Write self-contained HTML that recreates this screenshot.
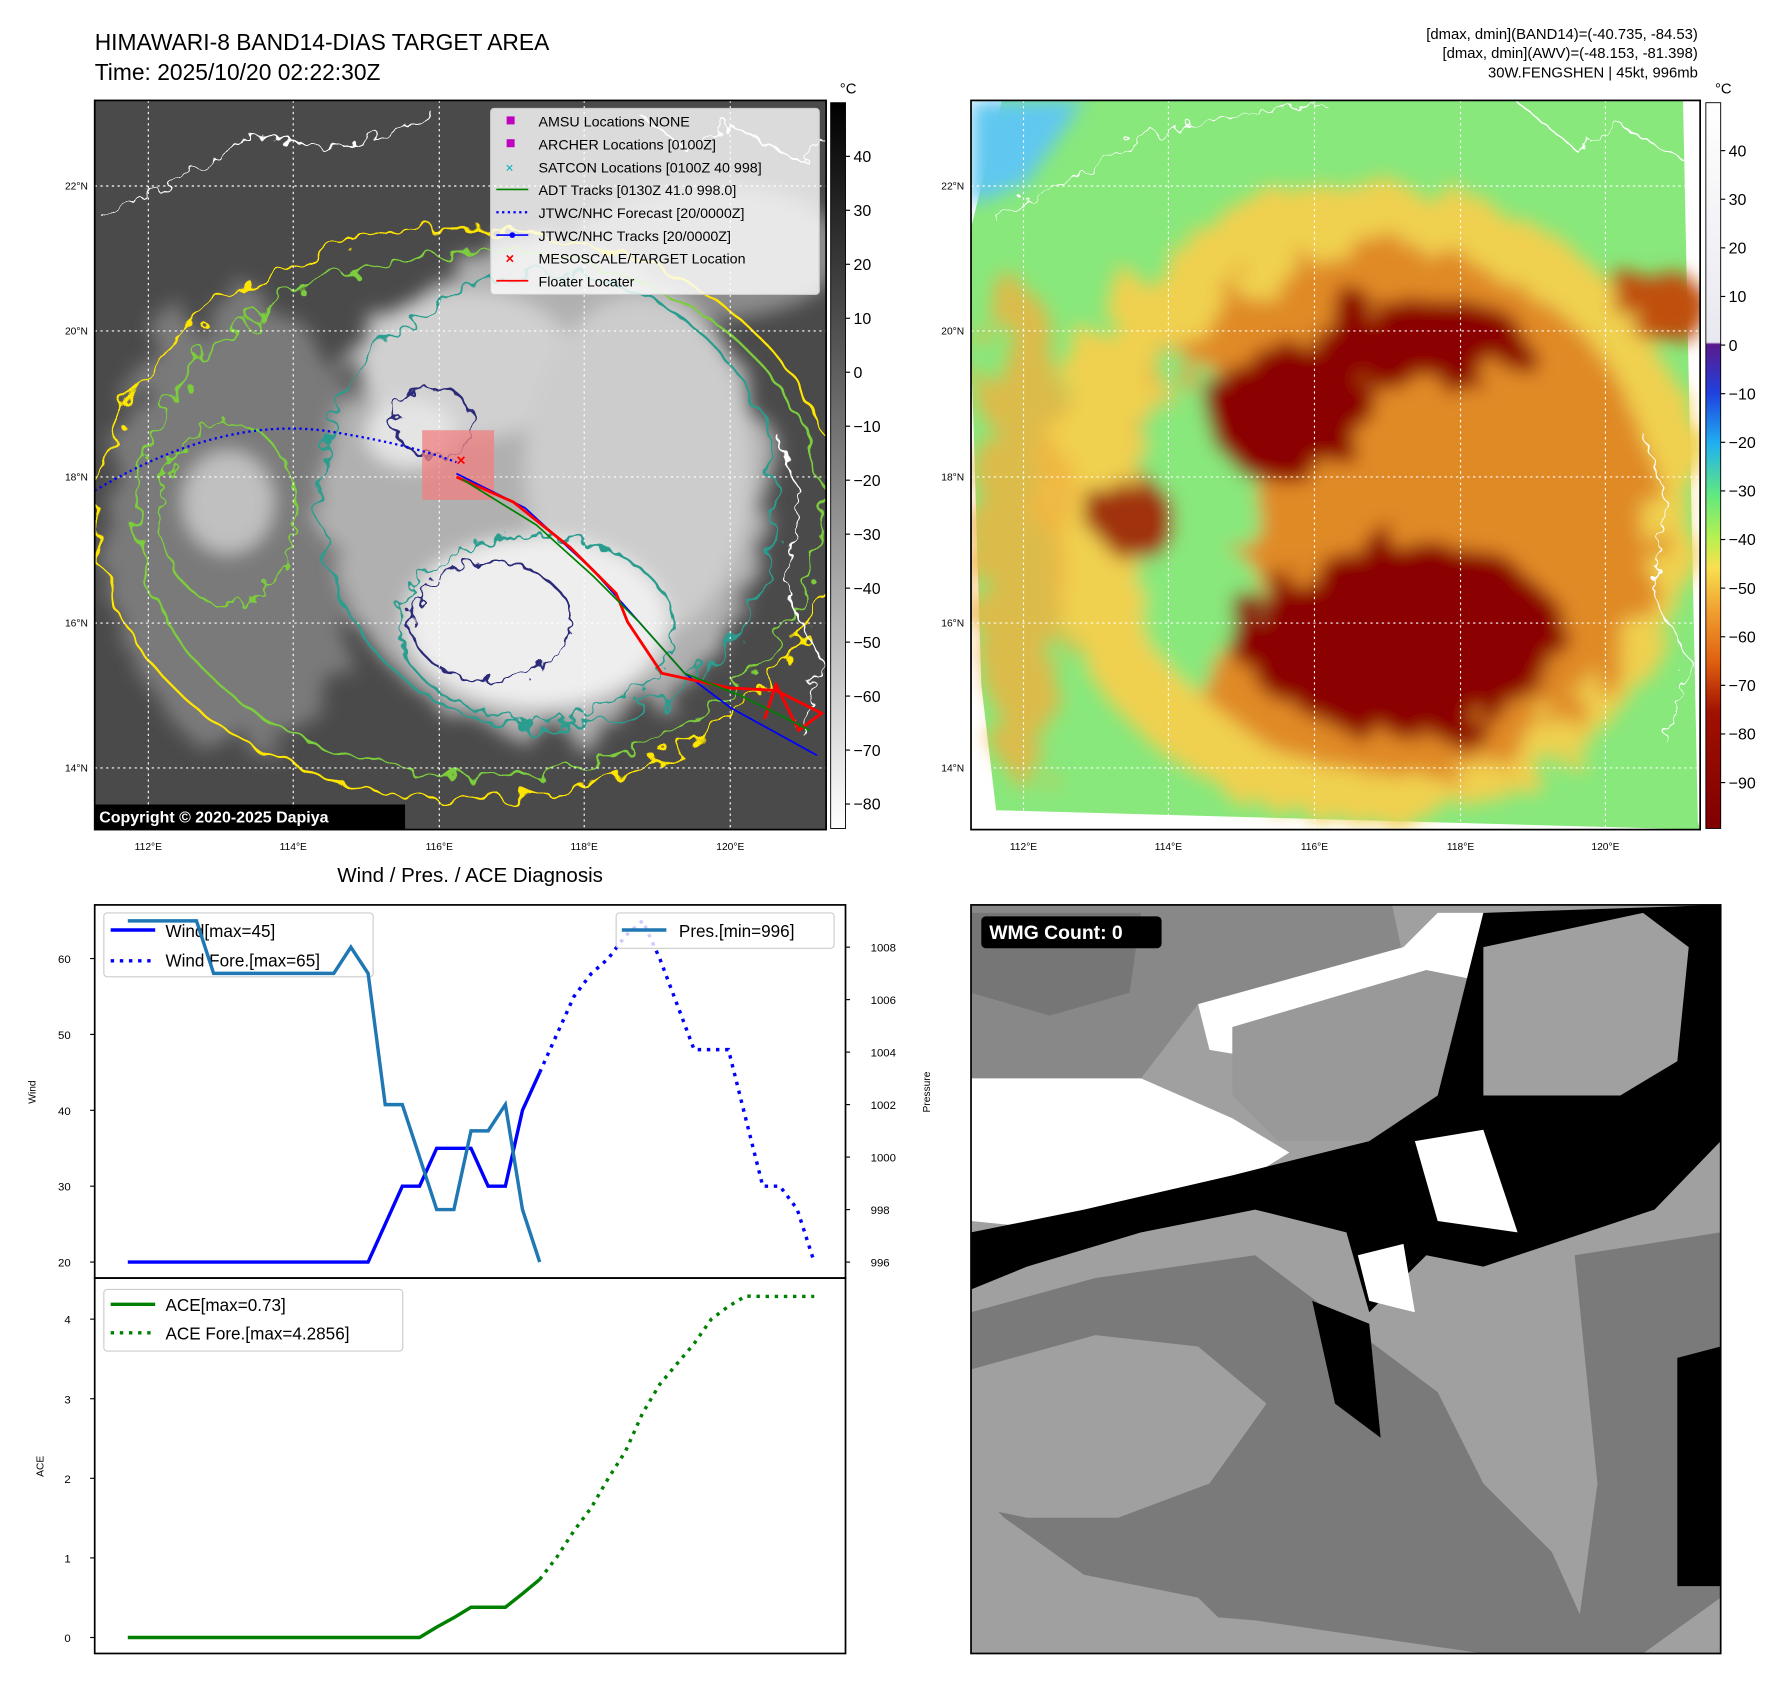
<!DOCTYPE html>
<html><head><meta charset="utf-8"><style>
html,body{margin:0;padding:0;background:#fff;}
svg{display:block;font-family:"Liberation Sans","DejaVu Sans",sans-serif;}
</style></head><body>
<svg id="root" width="1788" height="1690" viewBox="0 0 1567 1481" preserveAspectRatio="none" xmlns="http://www.w3.org/2000/svg">
<defs>
<filter id="blur8"><feGaussianBlur stdDeviation="8"/></filter>
<filter id="blur4"><feGaussianBlur stdDeviation="4"/></filter>
<filter id="wig"><feTurbulence type="fractalNoise" baseFrequency="0.05" numOctaves="2" seed="3"/><feDisplacementMap in="SourceGraphic" scale="28"/></filter>
<filter id="wig2"><feTurbulence type="fractalNoise" baseFrequency="0.08" numOctaves="2" seed="7"/><feDisplacementMap in="SourceGraphic" scale="20"/></filter>
<filter id="wig3"><feTurbulence type="fractalNoise" baseFrequency="0.03" numOctaves="3" seed="11"/><feDisplacementMap in="SourceGraphic" scale="60"/></filter>
<linearGradient id="cb1" x1="0" y1="0" x2="0" y2="1"><stop offset="0" stop-color="#000"/><stop offset="1" stop-color="#fff"/></linearGradient>
<linearGradient id="cb2" x1="0" y1="0" x2="0" y2="1">
<stop offset="0" stop-color="#ffffff"/><stop offset="0.33" stop-color="#e8e8f0"/><stop offset="0.333" stop-color="#5a1a8c"/>
<stop offset="0.40" stop-color="#2040e0"/><stop offset="0.47" stop-color="#20b0f0"/><stop offset="0.54" stop-color="#60e880"/>
<stop offset="0.60" stop-color="#b8f050"/><stop offset="0.64" stop-color="#f8e050"/><stop offset="0.70" stop-color="#f0a030"/>
<stop offset="0.77" stop-color="#e06010"/><stop offset="0.84" stop-color="#a01000"/><stop offset="1" stop-color="#800000"/></linearGradient>
<clipPath id="m1"><rect x="83" y="88" width="641" height="639"/></clipPath>
<clipPath id="m2"><rect x="851" y="88" width="639" height="639"/></clipPath>
<clipPath id="wm"><rect x="851" y="793" width="657" height="656"/></clipPath>
</defs>

<text x="83" y="44" font-size="20">HIMAWARI-8 BAND14-DIAS TARGET AREA</text>
<text x="83" y="70" font-size="20">Time: 2025/10/20 02:22:30Z</text>
<g font-size="13" text-anchor="end">
<text x="1488" y="34">[dmax, dmin](BAND14)=(-40.735, -84.53)</text>
<text x="1488" y="51">[dmax, dmin](AWV)=(-48.153, -81.398)</text>
<text x="1488" y="68">30W.FENGSHEN | 45kt, 996mb</text>
</g>

<!-- MAP 1 -->
<g clip-path="url(#m1)">
<rect x="83" y="88" width="641" height="639" fill="#4a4a4a"/>
<g filter="url(#blur8)">
<ellipse cx="210" cy="460" rx="115" ry="200" fill="#7a7a7a" filter="url(#wig3)"/>
<ellipse cx="200" cy="440" rx="40" ry="45" fill="#c0c0c0"/>
<ellipse cx="620" cy="220" rx="120" ry="60" fill="#8c8c8c"/>
<ellipse cx="480" cy="430" rx="195" ry="215" fill="#b0b0b0" filter="url(#wig3)"/>
<ellipse cx="410" cy="320" rx="95" ry="65" fill="#d0d0d0"/>
<ellipse cx="560" cy="410" rx="100" ry="150" fill="#cccccc"/>
<ellipse cx="470" cy="545" rx="115" ry="75" fill="#eeeeee"/>
<ellipse cx="360" cy="380" rx="40" ry="30" fill="#e4e4e4"/>
</g>
<g fill="none" stroke-width="2">
<ellipse cx="410" cy="450" rx="325" ry="250" stroke="#ffe600" filter="url(#wig)"/>
<ellipse cx="420" cy="450" rx="300" ry="230" stroke="#7ccd3c" filter="url(#wig)"/>
<ellipse cx="200" cy="450" rx="60" ry="80" stroke="#7ccd3c" filter="url(#wig2)"/>
<ellipse cx="480" cy="440" rx="200" ry="200" stroke="#2a9d8f" filter="url(#wig)"/>
<ellipse cx="470" cy="550" rx="120" ry="80" stroke="#2a9d8f" filter="url(#wig2)"/>
<ellipse cx="430" cy="545" rx="70" ry="52" stroke="#2c2a78" filter="url(#wig2)"/>
<ellipse cx="380" cy="370" rx="35" ry="30" stroke="#2c2a78" filter="url(#wig2)"/>
<path d="M560 100 L600 130 640 110 700 140 724 120" stroke="#fff" stroke-width="1.5" filter="url(#wig2)"/>
<path d="M90 190 L150 160 220 120 300 130 380 100" stroke="#fff" stroke-width="1.5" filter="url(#wig2)"/>
<path d="M680 380 L700 430 690 520 720 580 700 640" stroke="#fff" stroke-width="1.5" filter="url(#wig2)"/>
</g>
<g stroke="#fff" stroke-dasharray="2,3" stroke-width="1">
<line x1="130" y1="88" x2="130" y2="727"/><line x1="257" y1="88" x2="257" y2="727"/><line x1="385" y1="88" x2="385" y2="727"/><line x1="512" y1="88" x2="512" y2="727"/><line x1="640" y1="88" x2="640" y2="727"/>
<line x1="83" y1="163" x2="724" y2="163"/><line x1="83" y1="290" x2="724" y2="290"/><line x1="83" y1="418" x2="724" y2="418"/><line x1="83" y1="546" x2="724" y2="546"/><line x1="83" y1="673" x2="724" y2="673"/>
</g>
<rect x="370" y="377" width="63" height="61" fill="#f08080" opacity="0.75"/>
<path d="M83 430 Q200 360 300 380 Q360 390 400 405" fill="none" stroke="#0000ff" stroke-width="2" stroke-dasharray="2,3"/>
<path d="M400 415 L460 445 520 500 560 545 600 590 640 620 716 662" fill="none" stroke="#0000ff" stroke-width="1.5"/>
<path d="M400 418 L450 440 500 480 540 520 550 545 580 590 640 603 680 605 720 625 700 640 680 600 670 630" fill="none" stroke="#ff0000" stroke-width="2.5"/>
<path d="M405 420 L470 460 520 505 560 545 600 590 650 610 710 640" fill="none" stroke="#008000" stroke-width="1.5"/>
<text x="400" y="408" fill="#ff0000" font-size="14" font-weight="bold">×</text>
<rect x="83" y="705" width="272" height="22" fill="#000"/>
<text x="87" y="721" fill="#fff" font-size="14" font-weight="bold">Copyright © 2020-2025 Dapiya</text>
</g>
<rect x="83" y="88" width="641" height="639" fill="none" stroke="#000" stroke-width="1.5"/>
<g>
<rect x="430" y="95" width="288" height="163" fill="#fff" fill-opacity="0.8" stroke="#ccc" rx="3"/>
<g font-size="12.5">
<rect x="444" y="102" width="7" height="7" fill="#c000c0"/><text x="472" y="111">AMSU Locations NONE</text>
<rect x="444" y="122" width="7" height="7" fill="#c000c0"/><text x="472" y="131">ARCHER Locations [0100Z]</text>
<text x="443" y="151" fill="#00b0b0" font-size="12">×</text><text x="472" y="151">SATCON Locations [0100Z 40 998]</text>
<line x1="435" y1="166" x2="463" y2="166" stroke="#008000" stroke-width="1.5"/><text x="472" y="171">ADT Tracks [0130Z 41.0 998.0]</text>
<line x1="435" y1="186" x2="463" y2="186" stroke="#0000ff" stroke-width="2" stroke-dasharray="2,3"/><text x="472" y="191">JTWC/NHC Forecast [20/0000Z]</text>
<line x1="435" y1="206" x2="463" y2="206" stroke="#0000ff" stroke-width="1.5"/><circle cx="449" cy="206" r="2.5" fill="#0000ff"/><text x="472" y="211">JTWC/NHC Tracks [20/0000Z]</text>
<text x="443" y="231" fill="#ff0000" font-size="13" font-weight="bold">×</text><text x="472" y="231">MESOSCALE/TARGET Location</text>
<line x1="435" y1="246" x2="463" y2="246" stroke="#ff0000" stroke-width="1.5"/><text x="472" y="251">Floater Locater</text>
</g></g>
<g font-size="9">
<g text-anchor="end"><text x="77" y="166">22°N</text><text x="77" y="293">20°N</text><text x="77" y="421">18°N</text><text x="77" y="549">16°N</text><text x="77" y="676">14°N</text></g>
<g text-anchor="middle"><text x="130" y="745">112°E</text><text x="257" y="745">114°E</text><text x="385" y="745">116°E</text><text x="512" y="745">118°E</text><text x="640" y="745">120°E</text></g>
</g>
<rect x="728" y="90" width="13" height="636" fill="url(#cb1)" stroke="#000" stroke-width="0.8"/>
<text x="736" y="82" font-size="13">°C</text>
<g id="cb1ticks" font-size="14"></g>

<!-- MAP 2 -->
<g clip-path="url(#m2)">
<polygon points="878,88 1475,88 1488,720 1490,727 873,710 860,600 851,300 851,200" fill="#88e87c"/>
<polygon points="851,88 950,88 900,160 851,180" fill="#60c8f0" filter="url(#blur8)"/>
<g filter="url(#blur8)">
<g filter="url(#wig3)">
<ellipse cx="1200" cy="440" rx="290" ry="280" fill="#f0d050"/>
<ellipse cx="895" cy="470" rx="40" ry="220" fill="#f0b040" opacity="0.8"/>
<ellipse cx="1220" cy="450" rx="230" ry="230" fill="#e08a28"/>
<ellipse cx="1050" cy="460" rx="55" ry="140" fill="#88e87c"/>
<ellipse cx="990" cy="450" rx="35" ry="35" fill="#a03010"/>
<ellipse cx="1460" cy="270" rx="40" ry="25" fill="#c05010"/>
<ellipse cx="1130" cy="360" rx="75" ry="60" fill="#8b0000"/>
<ellipse cx="1240" cy="300" rx="100" ry="40" fill="#8b0000"/>
<ellipse cx="1230" cy="560" rx="145" ry="85" fill="#8b0000"/>
</g></g>
<g fill="none" stroke="#fff" stroke-width="1.2" filter="url(#wig2)">
<path d="M870 190 L950 150 1000 120 1100 100 1160 90"/><path d="M1330 90 L1380 130 1420 110 1475 140"/><path d="M1440 380 L1460 440 1450 520 1480 580 1460 650"/>
</g>
<g stroke="#fff" stroke-dasharray="2,3" stroke-width="1">
<line x1="897" y1="88" x2="897" y2="727"/><line x1="1024" y1="88" x2="1024" y2="727"/><line x1="1152" y1="88" x2="1152" y2="727"/><line x1="1280" y1="88" x2="1280" y2="727"/><line x1="1407" y1="88" x2="1407" y2="727"/>
<line x1="851" y1="163" x2="1490" y2="163"/><line x1="851" y1="290" x2="1490" y2="290"/><line x1="851" y1="418" x2="1490" y2="418"/><line x1="851" y1="546" x2="1490" y2="546"/><line x1="851" y1="673" x2="1490" y2="673"/>
</g>
</g>
<rect x="851" y="88" width="639" height="639" fill="none" stroke="#000" stroke-width="1.5"/>
<g font-size="9">
<g text-anchor="end"><text x="845" y="166">22°N</text><text x="845" y="293">20°N</text><text x="845" y="421">18°N</text><text x="845" y="549">16°N</text><text x="845" y="676">14°N</text></g>
<g text-anchor="middle"><text x="897" y="745">112°E</text><text x="1024" y="745">114°E</text><text x="1152" y="745">116°E</text><text x="1280" y="745">118°E</text><text x="1407" y="745">120°E</text></g>
</g>
<rect x="1495" y="90" width="13" height="636" fill="url(#cb2)" stroke="#000" stroke-width="0.8"/>
<text x="1503" y="82" font-size="13">°C</text>
<g id="cb2ticks" font-size="14"></g>

<!-- WMG -->
<g clip-path="url(#wm)">
<rect x="851" y="793" width="657" height="656" fill="#a0a0a0"/>
<polygon points="851,793 1220,793 1230,840 1050,880 1000,945 851,945" fill="#888"/>
<polygon points="851,800 1000,800 990,870 920,890 851,870" fill="#6a6a6a" opacity="0.6"/>
<polygon points="1050,880 1230,830 1260,800 1430,800 1300,900 1120,930 1060,920" fill="#fff"/>
<polygon points="851,945 1000,945 1080,980 1130,1010 1050,1060 950,1080 851,1070" fill="#fff"/>
<polygon points="1080,900 1250,850 1300,860 1260,960 1200,1000 1120,1000 1080,960" fill="#999"/>
<polygon points="1300,800 1508,793 1508,1000 1450,1060 1300,1110 1250,1100 1200,1150 1180,1080 1100,1060 1000,1080 900,1110 851,1130 851,1080 950,1060 1080,1030 1200,1000 1260,960" fill="#000"/>
<polygon points="1300,830 1440,800 1480,830 1470,930 1420,960 1300,960" fill="#a0a0a0"/>
<polygon points="1240,1000 1300,990 1330,1080 1260,1070" fill="#fff"/>
<polygon points="1190,1100 1230,1090 1240,1150 1200,1140" fill="#fff"/>
<polygon points="851,1010 880,1010 880,1060 851,1060" fill="#fff"/>
<polygon points="851,1150 960,1120 1100,1100 1180,1160 1260,1220 1300,1300 1360,1360 1400,1449 1100,1449 1050,1400 950,1380 880,1330 851,1300" fill="#7a7a7a"/>
<polygon points="851,1200 960,1170 1050,1180 1110,1230 1060,1300 980,1330 900,1330 851,1320" fill="#a0a0a0"/>
<polygon points="1380,1100 1508,1080 1508,1400 1440,1449 1380,1449 1400,1300" fill="#7a7a7a"/>
<polygon points="1470,1190 1508,1180 1508,1390 1470,1390" fill="#000"/>
<polygon points="1150,1140 1200,1160 1210,1260 1170,1230" fill="#000"/>
<polygon points="851,1400 1100,1420 1300,1449 851,1449" fill="#a0a0a0"/>
</g>
<rect x="851" y="793" width="657" height="656" fill="none" stroke="#000" stroke-width="1.5"/>
<rect x="860" y="803" width="158" height="28" rx="4" fill="#000"/>
<text x="867" y="823" fill="#fff" font-size="17" font-weight="bold">WMG Count: 0</text>

<!-- Diagnosis charts -->
<text x="412" y="773" font-size="18" text-anchor="middle">Wind / Pres. / ACE Diagnosis</text>
<g id="charts"></g>
</svg>
<script>
const windObs = [20,20,20,20,20,20,20,20,20,20,20,20,20,20,20,25,30,30,35,35,35,30,30,40,45];
const windFore = [45,50,55,58,60,63,65,60,54,48,48,48,39,30,30,27,20];
const presObs = [1009,1009,1009,1009,1009,1007,1007,1007,1007,1007,1007,1007,1007,1008,1007,1002,1002,1000,998,998,1001,1001,1002,998,996];
const aceObs = [0,0,0,0,0,0,0,0,0,0,0,0,0,0,0,0,0,0,0.13,0.25,0.38,0.38,0.38,0.55,0.73];
const aceFore = [0.73,1.01,1.34,1.63,2.0,2.34,2.82,3.18,3.44,3.69,4.0,4.16,4.29,4.2856,4.2856,4.2856,4.2856];
const windTicks = [20,30,40,50,60];
const presTicks = [996,998,1000,1002,1004,1006,1008];
const aceTicks = [0,1,2,3,4];
const cb1Ticks = [40,30,20,10,0,-10,-20,-30,-40,-50,-60,-70,-80];
const cb2Ticks = [40,30,20,10,0,-10,-20,-30,-40,-50,-60,-70,-80,-90];

const NS='http://www.w3.org/2000/svg';
function mk(tag, attrs, parent){const e=document.createElementNS(NS,tag);for(const k in attrs)e.setAttribute(k,attrs[k]);parent.appendChild(e);return e;}
const xS = k => 112 + k*15.04;
const wY = w => 1106 - (w-20)*6.65;
const pY = p => 1106 - (p-996)*23;
const aY = a => 1435 - a*69.75;
const c1Y = v => 137 + (40-v)*4.73;
const c2Y = v => 132 + (40-v)*4.26;

const cb1=document.getElementById('cb1ticks');
cb1Ticks.forEach(v=>{mk('line',{x1:741,x2:745,y1:c1Y(v),y2:c1Y(v),stroke:'#000'},cb1);
 const t=mk('text',{x:748,y:c1Y(v)+5},cb1);t.textContent=String(v).replace('-','\u2212');
 
 });
const cb2=document.getElementById('cb2ticks');
cb2Ticks.forEach(v=>{mk('line',{x1:1508,x2:1512,y1:c2Y(v),y2:c2Y(v),stroke:'#000'},cb2);
 const t=mk('text',{x:1515,y:c2Y(v)+5},cb2);t.textContent=String(v).replace('-','\u2212');
 
 });

const g=document.getElementById('charts');
function pts(arr,off,yf){return arr.map((v,i)=>xS(i+off).toFixed(1)+','+yf(v).toFixed(1)).join(' ');}
mk('rect',{x:83,y:793,width:658,height:327,fill:'#fff'},g);
mk('rect',{x:83,y:1120,width:658,height:329,fill:'#fff'},g);
const wl=mk('polyline',{points:pts(windObs,0,wY),fill:'none',stroke:'#0000ff','stroke-width':3},g);


const wf=mk('polyline',{points:pts(windFore,24,wY),fill:'none',stroke:'#0000ff','stroke-width':3,'stroke-dasharray':'3,5'},g);


const wlg=mk('g',{},g);


mk('rect',{x:91,y:800,width:236,height:56,fill:'#fff','fill-opacity':0.8,stroke:'#ccc',rx:3},wlg);
mk('line',{x1:97,x2:136,y1:815,y2:815,stroke:'#0000ff','stroke-width':3},wlg);
mk('line',{x1:97,x2:136,y1:842,y2:842,stroke:'#0000ff','stroke-width':3,'stroke-dasharray':'3,5'},wlg);
let t=mk('text',{x:145,y:821,'font-size':15},wlg);t.textContent='Wind[max=45]';
t=mk('text',{x:145,y:847,'font-size':15},wlg);t.textContent='Wind Fore.[max=65]';
const pl=mk('polyline',{points:pts(presObs,0,pY),fill:'none',stroke:'#1f77b4','stroke-width':3},g);


const plg=mk('g',{},g);


mk('rect',{x:540,y:800,width:191,height:31,fill:'#fff','fill-opacity':0.8,stroke:'#ccc',rx:3},plg);
mk('line',{x1:545,x2:584,y1:815,y2:815,stroke:'#1f77b4','stroke-width':3},plg);
t=mk('text',{x:595,y:821,'font-size':15},plg);t.textContent='Pres.[min=996]';
const al=mk('polyline',{points:pts(aceObs,0,aY),fill:'none',stroke:'#008000','stroke-width':3},g);


const af=mk('polyline',{points:pts(aceFore,24,aY),fill:'none',stroke:'#008000','stroke-width':3,'stroke-dasharray':'3,5'},g);


const alg=mk('g',{},g);


mk('rect',{x:91,y:1130,width:262,height:54,fill:'#fff','fill-opacity':0.8,stroke:'#ccc',rx:3},alg);
mk('line',{x1:97,x2:136,y1:1143,y2:1143,stroke:'#008000','stroke-width':3},alg);
mk('line',{x1:97,x2:136,y1:1168,y2:1168,stroke:'#008000','stroke-width':3,'stroke-dasharray':'3,5'},alg);
t=mk('text',{x:145,y:1149,'font-size':15},alg);t.textContent='ACE[max=0.73]';
t=mk('text',{x:145,y:1174,'font-size':15},alg);t.textContent='ACE Fore.[max=4.2856]';
mk('rect',{x:83,y:793,width:658,height:327,fill:'none',stroke:'#000','stroke-width':1.5},g);
mk('rect',{x:83,y:1120,width:658,height:329,fill:'none',stroke:'#000','stroke-width':1.5},g);
windTicks.forEach(v=>{mk('line',{x1:79,x2:83,y1:wY(v),y2:wY(v),stroke:'#000'},g);
 const e=mk('text',{x:62,y:wY(v)+4,'font-size':10,'text-anchor':'end'},g);e.textContent=v;
 
 });
presTicks.forEach(v=>{mk('line',{x1:741,x2:745,y1:pY(v),y2:pY(v),stroke:'#000'},g);
 const e=mk('text',{x:763,y:pY(v)+4,'font-size':10},g);e.textContent=v;
 
 });
aceTicks.forEach(v=>{mk('line',{x1:79,x2:83,y1:aY(v),y2:aY(v),stroke:'#000'},g);
 const e=mk('text',{x:62,y:aY(v)+4,'font-size':10,'text-anchor':'end'},g);e.textContent=v;
 
 });
t=mk('text',{x:0,y:0,'font-size':9,'text-anchor':'middle',transform:'translate(31,957) rotate(-90)'},g);t.textContent='Wind';


t=mk('text',{x:0,y:0,'font-size':9,'text-anchor':'middle',transform:'translate(815,957) rotate(-90)'},g);t.textContent='Pressure';


t=mk('text',{x:0,y:0,'font-size':9,'text-anchor':'middle',transform:'translate(38,1285) rotate(-90)'},g);t.textContent='ACE';


</script>
</body></html>
